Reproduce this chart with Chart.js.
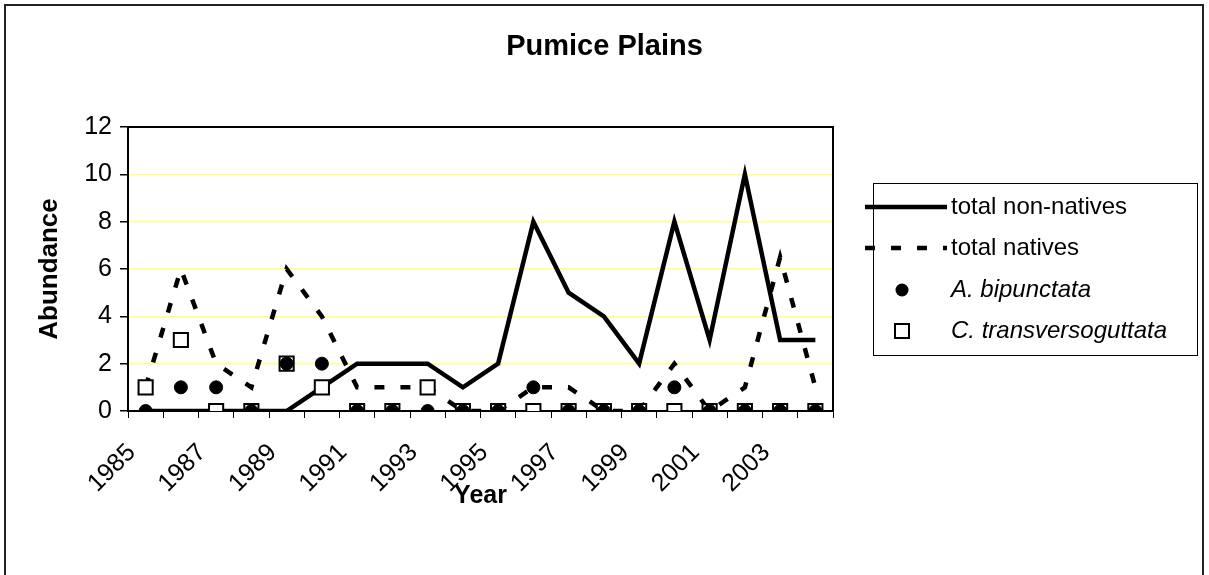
<!DOCTYPE html>
<html lang="en">
<head>
<meta charset="UTF-8">
<title>Pumice Plains</title>
<script src="https://cdn.jsdelivr.net/npm/chart.js"></script>
<style>
    body { margin: 0; background: #fff; overflow: hidden; }
    #chart { display: block; }
</style>
</head>
<body>
<canvas id="chart" width="1209" height="575"></canvas>
<script>
    // survey years (x axis categories)
    const years = ['1985', '1986', '1987', '1988', '1989', '1990', '1991', '1992', '1993', '1994',
                   '1995', '1996', '1997', '1998', '1999', '2000', '2001', '2002', '2003', '2004'];

    // abundance per year
    const nonNatives = [0, 0, 0, 0, 0, 1, 2, 2, 2, 1, 2, 8, 5, 4, 2, 8, 3, 10, 3, 3];
    const natives = [1, 6, 2, 1, 6, 4, 1, 1, 1, 0, 0, 1, 1, 0, 0, 2, 0, 1, 6.5, 1];
    const aBipunctata = [0, 1, 1, 0, 2, 2, 0, 0, 0, 0, 0, 1, 0, 0, 0, 1, 0, 0, 0, 0];
    const cTransversoguttata = [1, 3, 0, 0, 2, 1, 0, 0, 1, 0, 0, 0, 0, 0, 0, 0, 0, 0, 0, 0];

    const yTicks = [0, 2, 4, 6, 8, 10, 12];

    Chart.defaults.font.family = "'Liberation Sans', Arial, sans-serif";
    Chart.defaults.color = '#000';

    // outer chart frame
    const frame = {
        id: 'frame',
        beforeDraw(chart) {
            const ctx = chart.ctx;
            ctx.save();
            ctx.strokeStyle = '#222';
            ctx.lineWidth = 2;
            ctx.strokeRect(5, 5, 1198, 620);
            ctx.restore();
        }
    };

    // black box round the plot area
    const plotBox = {
        id: 'plotBox',
        beforeDatasetsDraw(chart) {
            const a = chart.chartArea;
            const ctx = chart.ctx;
            ctx.save();
            ctx.strokeStyle = '#000';
            ctx.lineWidth = 2;
            ctx.strokeRect(a.left, a.top, a.right - a.left, a.bottom - a.top);
            ctx.restore();
        }
    };

    // legend box on the right, drawn like the excel one
    const legendBox = {
        id: 'legendBox',
        afterDraw(chart) {
            const ctx = chart.ctx;
            const rows = [207, 248, 290, 331];
            ctx.save();
            ctx.strokeStyle = '#000';
            ctx.lineWidth = 1;
            ctx.strokeRect(873.5, 183.5, 324, 172);
            chart.data.datasets.forEach((ds, i) => {
                const y = rows[i];
                ctx.strokeStyle = '#000';
                ctx.fillStyle = '#000';
                if (ds.showLine === false) {
                    if (ds.pointStyle === 'rect') {
                        ctx.fillStyle = '#fff';
                        ctx.lineWidth = ds.pointBorderWidth;
                        ctx.fillRect(895, y - 7, 14, 14);
                        ctx.strokeRect(895, y - 7, 14, 14);
                    } else {
                        ctx.beginPath();
                        ctx.arc(902, y, ds.pointRadius, 0, Math.PI * 2);
                        ctx.fill();
                    }
                } else {
                    ctx.lineWidth = ds.borderWidth;
                    ctx.setLineDash(ds.borderDash || []);
                    ctx.beginPath();
                    ctx.moveTo(865, y);
                    ctx.lineTo(947, y);
                    ctx.stroke();
                    ctx.setLineDash([]);
                }
                ctx.fillStyle = '#000';
                ctx.font = (i >= 2 ? 'italic ' : '') + "24px 'Liberation Sans', Arial, sans-serif";
                ctx.textBaseline = 'middle';
                ctx.textAlign = 'left';
                ctx.fillText(ds.label, 951, y);
            });
            ctx.restore();
        }
    };

    const chart = new Chart(document.getElementById('chart'), {
        type: 'line',
        data: {
            labels: years,
            datasets: [
                {
                    label: 'total non-natives',
                    data: nonNatives,
                    borderColor: '#000',
                    borderWidth: 4.5,
                    pointRadius: 0,
                    tension: 0,
                    fill: false,
                    order: 4
                },
                {
                    label: 'total natives',
                    data: natives,
                    borderColor: '#000',
                    borderWidth: 4.5,
                    borderDash: [10, 16],
                    pointRadius: 0,
                    tension: 0,
                    fill: false,
                    order: 3
                },
                {
                    label: 'A. bipunctata',
                    data: aBipunctata,
                    showLine: false,
                    pointStyle: 'circle',
                    pointRadius: 6.5,
                    pointBackgroundColor: '#000',
                    pointBorderColor: '#000',
                    pointBorderWidth: 1,
                    order: 1
                },
                {
                    label: 'C. transversoguttata',
                    data: cTransversoguttata,
                    showLine: false,
                    pointStyle: 'rect',
                    pointRadius: 10,
                    pointBackgroundColor: '#fff',
                    pointBorderColor: '#000',
                    pointBorderWidth: 2,
                    order: 2
                }
            ]
        },
        options: {
            responsive: false,
            animation: false,
            events: [],
            layout: { padding: 0 },
            plugins: {
                legend: { display: false },
                tooltip: { enabled: false },
                title: {
                    display: true,
                    text: 'Pumice Plains',
                    color: '#000',
                    font: { size: 29, weight: 'bold' },
                    padding: { top: 30, bottom: 62.2 }
                }
            },
            scales: {
                x: {
                    offset: true,
                    border: { display: false },
                    grid: {
                        offset: true,
                        drawOnChartArea: false,
                        drawTicks: true,
                        tickLength: 7,
                        tickColor: '#000',
                        tickWidth: 1
                    },
                    ticks: {
                        autoSkip: false,
                        maxRotation: 45,
                        minRotation: 45,
                        padding: 20,
                        labelOffset: -14,
                        color: '#000',
                        font: { size: 25 },
                        callback: function (v, i) {
                            return i % 2 === 0 ? this.getLabelForValue(v) : '';
                        }
                    },
                    title: {
                        display: true,
                        text: 'Year',
                        color: '#000',
                        font: { size: 25, weight: 'bold' },
                        padding: { top: 0, bottom: 64 }
                    },
                    afterFit: (s) => { s.height = 164; }
                },
                y: {
                    min: yTicks[0],
                    max: yTicks[yTicks.length - 1],
                    border: { display: false },
                    grid: {
                        color: (c) => (c.tick.value > 0 && c.tick.value < 12) ? '#ffff80' : 'rgba(0,0,0,0)',
                        tickColor: '#000',
                        tickLength: 8,
                        lineWidth: 1.5
                    },
                    ticks: {
                        stepSize: 2,
                        padding: 8,
                        color: '#000',
                        font: { size: 25 }
                    },
                    afterBuildTicks: (s) => { s.ticks = yTicks.map(v => ({ value: v })); },
                    title: {
                        display: true,
                        text: 'Abundance',
                        color: '#000',
                        font: { size: 26, weight: 'bold' },
                        padding: { top: 34.4, bottom: 0 }
                    },
                    afterFit: (s) => { s.width = 128; }
                },
                // empty axis that only reserves room for the legend
                y2: {
                    position: 'right',
                    display: true,
                    border: { display: false },
                    grid: { display: false },
                    ticks: { display: false },
                    afterFit: (s) => { s.width = 376; }
                }
            }
        },
        plugins: [frame, plotBox, legendBox]
    });
</script>
</body>
</html>
